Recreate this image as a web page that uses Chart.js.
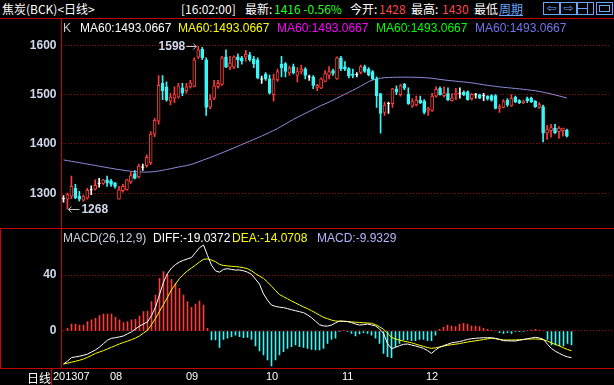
<!DOCTYPE html>
<html>
<head>
<meta charset="utf-8">
<title>焦炭(BCK) 日线</title>
<script src="https://cdn.jsdelivr.net/npm/chart.js"></script>
<style>
  html, body { margin: 0; padding: 0; background: #000; }
  #stage { position: relative; width: 614px; height: 385px; background: #000; overflow: hidden; }
  .txt { position: absolute; white-space: nowrap; line-height: 16px; }
  .cjk { font: 12px "Noto Sans CJK SC", sans-serif; }
  .lat { font: 12px "Liberation Sans", Arial, sans-serif; }
  .rule { position: absolute; background: #c80000; }
  .btn { position: absolute; top: 2px; width: 15px; height: 11px; border: 1px solid #6aa6ff; color: #6aa6ff;
         font: 12px "DejaVu Sans", sans-serif; line-height: 11px; text-align: center; overflow: hidden; }
  .box { position: absolute; }
</style>
</head>
<body>
<div id="stage">
  <!-- 上の情報バー -->
  <span class="txt cjk" style="left:2px;top:0;color:#fff">焦炭(BCK)&lt;日线&gt;</span>
  <span class="txt cjk" style="left:181px;top:0;color:#fff">[16:02:00]</span>
  <span class="txt cjk" style="left:245px;top:0;color:#fff">最新:</span>
  <span class="txt cjk" style="left:274px;top:0;color:#20ff20">1416 -0.56%</span>
  <span class="txt cjk" style="left:350px;top:0;color:#fff">今开:</span>
  <span class="txt cjk" style="left:379px;top:0;color:#ff4848">1428</span>
  <span class="txt cjk" style="left:411px;top:0;color:#fff">最高:</span>
  <span class="txt cjk" style="left:442px;top:0;color:#ff4848">1430</span>
  <span class="txt cjk" style="left:474px;top:0;color:#fff">最低</span>
  <span class="txt cjk" style="left:499px;top:0;color:#6aa6ff;text-decoration:underline">周期</span>
  <div class="btn" style="left:543px">&#8678;</div>
  <div class="btn" style="left:560px">&#8680;</div>
  <div class="btn" style="left:577px"><div class="box" style="left:9px;top:0;width:1px;height:11px;background:#6aa6ff"></div><div class="box" style="left:0;top:5px;width:9px;height:1px;background:#6aa6ff"></div></div>
  <div class="btn" style="left:596px"><div class="box" style="left:2px;top:2px;width:9px;height:5px;border:1px solid #6aa6ff"></div></div>

  <div style="position:absolute;left:0;top:19px;width:614px;height:209px"><canvas id="kChart"></canvas></div>
  <div style="position:absolute;left:0;top:229px;width:614px;height:156px"><canvas id="macdChart"></canvas></div>

  <!-- 凡例 -->
  <span class="txt lat" style="left:63px;top:21px;color:#c8c8c8">K</span>
  <span class="txt lat" style="left:80px;top:21px;color:#ffffff">MA60:1493.0667</span>
  <span class="txt lat" style="left:178px;top:21px;color:#ffff00">MA60:1493.0667</span>
  <span class="txt lat" style="left:277px;top:21px;color:#ff00ff">MA60:1493.0667</span>
  <span class="txt lat" style="left:376px;top:21px;color:#00ff00">MA60:1493.0667</span>
  <span class="txt lat" style="left:475px;top:21px;color:#7474f0">MA60:1493.0667</span>

  <span class="txt lat" style="left:63px;top:231px;color:#c8d0e0">MACD(26,12,9)</span>
  <span class="txt lat" style="left:153px;top:231px;color:#ffffff">DIFF:-19.0372</span>
  <span class="txt lat" style="left:232px;top:231px;color:#ffff00">DEA:-14.0708</span>
  <span class="txt lat" style="left:317px;top:231px;color:#b4b4ff">MACD:-9.9329</span>

  <span class="txt cjk" style="left:27px;top:369px;color:#fff">日线</span>

  <!-- 枠線 -->
  <div class="rule" style="left:0;top:18px;width:614px;height:1px"></div>
  <div class="rule" style="left:61px;top:18px;width:1px;height:350px"></div>
  <div class="rule" style="left:0;top:228px;width:614px;height:1px"></div>
  <div class="rule" style="left:0;top:228px;width:1px;height:140px"></div>
  <div class="rule" style="left:0;top:368px;width:614px;height:1px"></div>
  <div class="rule" style="left:51px;top:368px;width:1px;height:17px"></div>
</div>

<script>
// 月のラベル（ローソク足の番号）
const months = ['201307', '08', '09', '10', '11', '12'];
const monthStart = [0, 12, 31, 51, 70, 91];
const priceTicks = [1300, 1400, 1500, 1600];
const macdTicks = [0, 40];

// 日足 OHLC
const open = [1289,1288,1294,1310,1294,1286,1290,1307,1308,1320,1320,1327,1325,1321,1288,1305,1307,1323,1340,1333,
  1353,1356,1362,1420,1446,1523,1516,1487,1493,1495,1514,1508,1516,1517,1576,1592,1571,1475,1493,1517,
  1521,1577,1556,1556,1577,1575,1576,1581,1573,1571,1532,1542,1532,1500,1530,1562,1563,1544,1557,1539,
  1547,1552,1536,1536,1515,1513,1527,1539,1549,1532,1575,1557,1553,1542,1541,1545,1557,1552,1547,1532,
  1502,1464,1482,1482,1512,1500,1521,1501,1477,1479,1489,1487,1468,1468,1497,1513,1498,1502,1488,1500,
  1503,1505,1506,1492,1500,1500,1498,1497,1498,1498,1472,1474,1489,1477,1495,1488,1484,1492,1493,1487,
  1474,1476,1422,1427,1432,1425,1427,1428];
const high = [1295,1300,1335,1318,1304,1296,1310,1315,1327,1330,1328,1335,1328,1322,1314,1318,1328,1343,1346,1359,
  1359,1378,1425,1452,1539,1539,1526,1503,1516,1523,1523,1523,1529,1575,1598,1596,1575,1500,1529,1529,
  1578,1591,1578,1579,1583,1578,1590,1586,1578,1575,1538,1545,1540,1542,1552,1578,1565,1558,1562,1555,
  1560,1555,1540,1539,1521,1534,1549,1557,1552,1577,1578,1567,1555,1552,1545,1560,1560,1555,1549,1536,
  1503,1485,1485,1513,1518,1521,1523,1514,1492,1497,1497,1490,1475,1503,1516,1516,1516,1514,1502,1513,
  1514,1508,1508,1503,1503,1501,1503,1498,1500,1500,1480,1490,1492,1500,1497,1490,1489,1495,1495,1488,
  1484,1479,1438,1440,1440,1435,1432,1430];
const low = [1282,1268,1289,1289,1284,1284,1288,1297,1306,1312,1318,1314,1314,1310,1288,1302,1306,1320,1329,1331,
  1346,1353,1358,1415,1440,1490,1487,1479,1484,1493,1498,1503,1513,1516,1573,1571,1458,1471,1490,1513,
  1519,1555,1551,1553,1555,1562,1568,1568,1555,1532,1523,1529,1501,1487,1527,1536,1536,1539,1542,1526,
  1542,1532,1529,1512,1508,1512,1526,1532,1539,1531,1549,1549,1534,1534,1536,1542,1545,1538,1530,1474,
  1422,1458,1462,1474,1500,1497,1510,1480,1474,1477,1482,1461,1458,1466,1495,1499,1495,1488,1487,1490,
  1493,1498,1489,1489,1493,1492,1488,1489,1487,1471,1464,1473,1476,1476,1484,1482,1482,1484,1484,1474,
  1472,1404,1409,1414,1421,1411,1416,1414];
const close = [1289,1297,1314,1291,1288,1293,1306,1307,1316,1320,1327,1321,1318,1314,1307,1314,1327,1336,1330,1355,
  1353,1373,1420,1448,1519,1508,1489,1495,1500,1518,1503,1516,1524,1571,1591,1575,1474,1490,1518,1523,
  1575,1556,1564,1577,1571,1568,1582,1571,1563,1534,1532,1532,1503,1532,1547,1555,1547,1554,1544,1547,
  1552,1539,1536,1519,1519,1532,1543,1547,1543,1575,1553,1552,1538,1539,1541,1557,1547,1540,1532,1498,
  1462,1479,1482,1512,1505,1518,1513,1482,1486,1489,1484,1464,1472,1497,1511,1500,1504,1490,1493,1503,
  1503,1500,1490,1501,1500,1493,1498,1492,1489,1472,1476,1486,1479,1492,1486,1484,1487,1488,1486,1475,
  1480,1422,1429,1433,1423,1432,1432,1416];

const ma60 = [1367.5,1366.2,1364.8,1363.4,1362,1360.5,1359.2,1357.8,1356.3,1354.9,1353.4,1352,1350.6,1349.2,1348,1346.7,1345.6,1344.6,1343.8,1343.2,
  1342.9,1342.8,1343.2,1344,1345,1346.5,1348,1349.7,1351.5,1353,1354.6,1356,1358,1360.5,1363.5,1366.5,1369.5,1372.5,1375.5,1378.8,
  1382,1385.3,1388.6,1392,1395.4,1398.8,1402.2,1405.6,1409,1412.5,1416,1419.7,1423.4,1427.4,1431.3,1436,1440.5,1445,1450,1454,
  1458,1462,1466,1470,1474,1478,1481.5,1485,1489,1493,1497,1501,1505,1509,1513,1517.5,1522,1526.5,1530,1532,
  1533.5,1534.5,1535,1535.2,1535.4,1535.5,1535.5,1535.5,1535.4,1535.2,1535,1534.5,1534,1533.2,1532.2,1531,1530,1529,1528.2,1527.4,
  1526.6,1525.8,1525,1524,1522.8,1521.5,1520.2,1519,1517.8,1516.8,1515.8,1515,1514.2,1513.4,1512.6,1511.8,1511,1510,1509,1508,
  1506.6,1505,1503.3,1501.5,1499.5,1497.5,1495.4,1493.07];

// MACD(26,12,9)
const diff = [-23.6,-21.5,-19,-18.5,-18,-17.3,-16.5,-15,-13.5,-11.5,-9,-6.5,-5.2,-4.8,-4.2,-3.5,-2,-0.6,1.5,3.5,
  5,6.5,11,17,26,35,41,45,47.5,49.3,50.5,51.5,52.5,56,59.5,61.4,54,47,43,42,
  44,44.5,44,43.5,43.6,43,42,40.5,37,33.5,26.5,22,18.5,17.6,17,16.7,16,15.2,14.5,13.8,
  13.1,11.5,9.5,7,4.5,3.6,3.5,4.2,5.8,7.1,7,6.8,6,5,4.3,4.5,5,4.3,3.6,1.5,
  -1.7,-9,-12.6,-11.7,-10.5,-9.5,-9.3,-10,-10.7,-11.5,-12.4,-14,-16,-13.5,-11.7,-10.5,-9.5,-8.5,-8,-7.6,
  -6.8,-6,-5.5,-5.2,-5,-4.8,-4.8,-4.8,-5.3,-6,-6.9,-7,-7.1,-7.1,-6.6,-6.1,-5.5,-5,-4.5,-5,
  -6,-9.5,-12.5,-14.5,-16,-17.5,-18.5,-19.04];
const dea = [-23.6,-23,-22.3,-21.6,-20.9,-20,-18.8,-17.5,-16,-15,-14,-12.8,-11.6,-10.4,-9.2,-8.2,-7.2,-6.2,-5,-3.5,
  -1.5,0.5,4.5,9,14,19,24,29.5,33.5,37.5,40.5,43,45,47,49.3,51.2,51.5,50.7,49.5,47.6,
  46.8,46.5,46.2,46,45.7,45.2,44.5,43,41,39.2,37.6,35,32,29,26,24.5,23,21.5,20,18.6,
  17.2,16,14.5,13,11.3,9.8,8.8,7.8,7.1,7,6.9,6.7,6.5,6.3,6.1,5.9,5.7,5.5,4.5,3,
  1.2,-1.5,-4.5,-5.8,-6.5,-7.2,-7.8,-8.4,-9.3,-10.2,-11,-11.8,-12.4,-12,-11.4,-10.8,-10.2,-9.8,-9.4,-9,
  -8.4,-7.9,-7.4,-7,-6.6,-6.1,-5.6,-5.2,-5.5,-6,-6.4,-6.4,-6.4,-6.4,-6.2,-6,-5.8,-5.7,-5.7,-5.9,
  -6.3,-7.2,-8.5,-9.6,-10.7,-12,-13.2,-14.07];
const macd = [0,1.9,5,5,4.3,4.3,6.7,7.9,9,11,12.1,12.1,12.1,9.8,7.9,6,6.7,7.9,8.3,10.7,
  13.8,14.3,21,25.7,37.6,42.4,40.7,36.9,34,30.5,25.7,21,16.9,19.3,21.4,18.6,1.9,-6.4,-6.4,-11.7,
  -6,-5.2,-4,-2.9,-4,-4.8,-4.5,-6,-10.7,-14.3,-17.1,-20.7,-25,-20.7,-17.1,-14.8,-12.4,-11.2,-10,-11.2,
  -11.7,-12.4,-13.1,-13.6,-13.6,-12.4,-8.8,-6,-5.2,-0.5,0.3,-0.5,-1.7,-3.6,-2.1,-1.2,-1.7,-2.9,-5.2,-8.8,
  -16,-18.3,-19,-11.2,-8.8,-6.4,-6.4,-6.9,-6.9,-6,-6,-6.9,-6.9,-2.9,1.2,2.6,4.3,3.6,3.1,5,
  5.5,5,3.6,3.6,3.1,1.9,1.2,0.2,0,-1.2,-1.7,-1.2,-1.7,-0.5,-0.2,-0.2,0,0.7,1.2,0.7,
  0,-6,-10,-10,-10.7,-10.7,-8.8,-9.93];

// 色
const UP = '#ff3c3c', DOWN = '#3cf4f4', DOJI = '#ffffff', MA_COLOR = '#8c8cdc';
const GRID = '#a00000', LABEL = '#d0d8ec';
const AXIS_W = 61.5;
const X_MAX = 137.625;          // 1本 = 4px
const FIRST_LABEL_X = 53;

const idx = close.map((_, i) => i);
const tone = i => close[i] > open[i] ? UP : (close[i] < open[i] ? DOWN : DOJI);

Chart.defaults.animation = false;
Chart.defaults.events = [];

// 縦軸の幅と余白を固定
const fixAxis = s => { s.width = AXIS_W; s.paddingTop = 0; s.paddingBottom = 0; };

// 最高値・最安値の注記
const extremaMarks = {
  id: 'extremaMarks',
  afterDatasetsDraw(chart) {
    const { ctx, scales: { x, y } } = chart;
    let hi = 0, lo = 0;
    idx.forEach(i => { if (high[i] > high[hi]) hi = i; if (low[i] < low[lo]) lo = i; });
    ctx.save();
    ctx.font = 'bold 12px "Liberation Sans", Arial, sans-serif';
    ctx.textBaseline = 'middle';
    ctx.fillStyle = LABEL;
    ctx.strokeStyle = '#c8c8c8';
    ctx.lineWidth = 1;
    // 1598 →
    const hx = x.getPixelForValue(hi), hy = Math.round(y.getPixelForValue(high[hi])) + 0.5;
    ctx.beginPath();
    ctx.moveTo(hx - 12, hy); ctx.lineTo(hx - 2, hy);
    ctx.moveTo(hx - 5, hy - 3); ctx.lineTo(hx - 2, hy); ctx.lineTo(hx - 5, hy + 3);
    ctx.stroke();
    ctx.textAlign = 'right';
    ctx.fillText(String(high[hi]), hx - 13, hy);
    // ← 1268
    const lx = x.getPixelForValue(lo), ly = Math.round(y.getPixelForValue(low[lo])) + 0.5;
    ctx.beginPath();
    ctx.moveTo(lx + 1, ly); ctx.lineTo(lx + 12, ly);
    ctx.moveTo(lx + 4, ly - 3); ctx.lineTo(lx + 1, ly); ctx.lineTo(lx + 4, ly + 3);
    ctx.stroke();
    ctx.textAlign = 'left';
    ctx.fillText(String(low[lo]), lx + 14, ly);
    ctx.restore();
  }
};

new Chart(document.getElementById('kChart'), {
  type: 'bar',
  data: {
    datasets: [
      {
        type: 'line', data: idx.map(i => ({ x: i, y: ma60[i] })),
        borderColor: MA_COLOR, borderWidth: 1, pointRadius: 0, order: 3
      },
      {
        data: idx.map(i => ({ x: i, y: [low[i], high[i]] })),
        backgroundColor: c => tone(c.raw.x), barThickness: 1, grouped: false, order: 2
      },
      {
        data: idx.filter(i => open[i] !== close[i])
                 .map(i => ({ x: i, y: [Math.min(open[i], close[i]), Math.max(open[i], close[i])] })),
        backgroundColor: c => close[c.raw.x] > open[c.raw.x] ? '#000' : DOWN,
        borderColor: c => tone(c.raw.x),
        borderWidth: 1, borderSkipped: false, barThickness: 3, grouped: false, order: 1
      },
      {
        type: 'line', data: idx.filter(i => open[i] === close[i]).map(i => ({ x: i, y: close[i] })),
        showLine: false, pointStyle: 'line', pointRadius: 1.5, borderColor: DOJI, borderWidth: 1, order: 0
      }
    ]
  },
  options: {
    responsive: true, maintainAspectRatio: false,
    layout: { padding: 0 },
    plugins: { legend: { display: false }, tooltip: { enabled: false } },
    scales: {
      x: { type: 'linear', min: -0.5, max: X_MAX, offset: false, display: false },
      y: {
        min: 1239.5, max: 1643.5,
        afterFit: fixAxis,
        afterBuildTicks: s => { s.ticks = priceTicks.map(v => ({ value: v })); },
        ticks: { color: LABEL, padding: 5, callback: v => String(v),
                 font: { family: 'Liberation Sans', size: 12, weight: 'bold' } },
        grid: { color: GRID, drawTicks: false },
        border: { display: false, dash: [1, 2] }
      }
    }
  },
  plugins: [extremaMarks]
});

// 下の日付ラベル
const monthAxis = {
  id: 'monthAxis',
  afterDraw(chart) {
    const { ctx, chartArea, scales: { x } } = chart;
    ctx.save();
    ctx.font = '11px "Liberation Sans Narrow", "Liberation Sans", sans-serif';
    ctx.fillStyle = '#ffffff';
    ctx.textBaseline = 'middle';
    ctx.textAlign = 'left';
    months.forEach((m, k) => {
      const px = k === 0 ? FIRST_LABEL_X : x.getPixelForValue(monthStart[k]) - 1.5;
      ctx.fillText(m, px, chartArea.bottom + 9);
    });
    ctx.restore();
  }
};

new Chart(document.getElementById('macdChart'), {
  type: 'bar',
  data: {
    datasets: [
      { type: 'line', data: idx.map(i => ({ x: i, y: diff[i] })), borderColor: '#ffffff', borderWidth: 1, pointRadius: 0, order: 0 },
      { type: 'line', data: idx.map(i => ({ x: i, y: dea[i] })), borderColor: '#ffff00', borderWidth: 1, pointRadius: 0, order: 1 },
      {
        data: idx.map(i => ({ x: i, y: macd[i] })),
        backgroundColor: c => c.raw.y >= 0 ? UP : DOWN, barThickness: 1, grouped: false, order: 2
      }
    ]
  },
  options: {
    responsive: true, maintainAspectRatio: false,
    layout: { padding: { bottom: 17 } },
    plugins: { legend: { display: false }, tooltip: { enabled: false } },
    scales: {
      x: { type: 'linear', min: -0.5, max: X_MAX, offset: false, display: false },
      y: {
        min: -26.43, max: 72.86,
        afterFit: fixAxis,
        afterBuildTicks: s => { s.ticks = macdTicks.map(v => ({ value: v })); },
        ticks: { color: LABEL, padding: 5, callback: v => String(v),
                 font: { family: 'Liberation Sans', size: 12, weight: 'bold' } },
        grid: { color: GRID, drawTicks: false },
        border: { display: false, dash: [1, 2] }
      }
    }
  },
  plugins: [monthAxis]
});
</script>
</body>
</html>
